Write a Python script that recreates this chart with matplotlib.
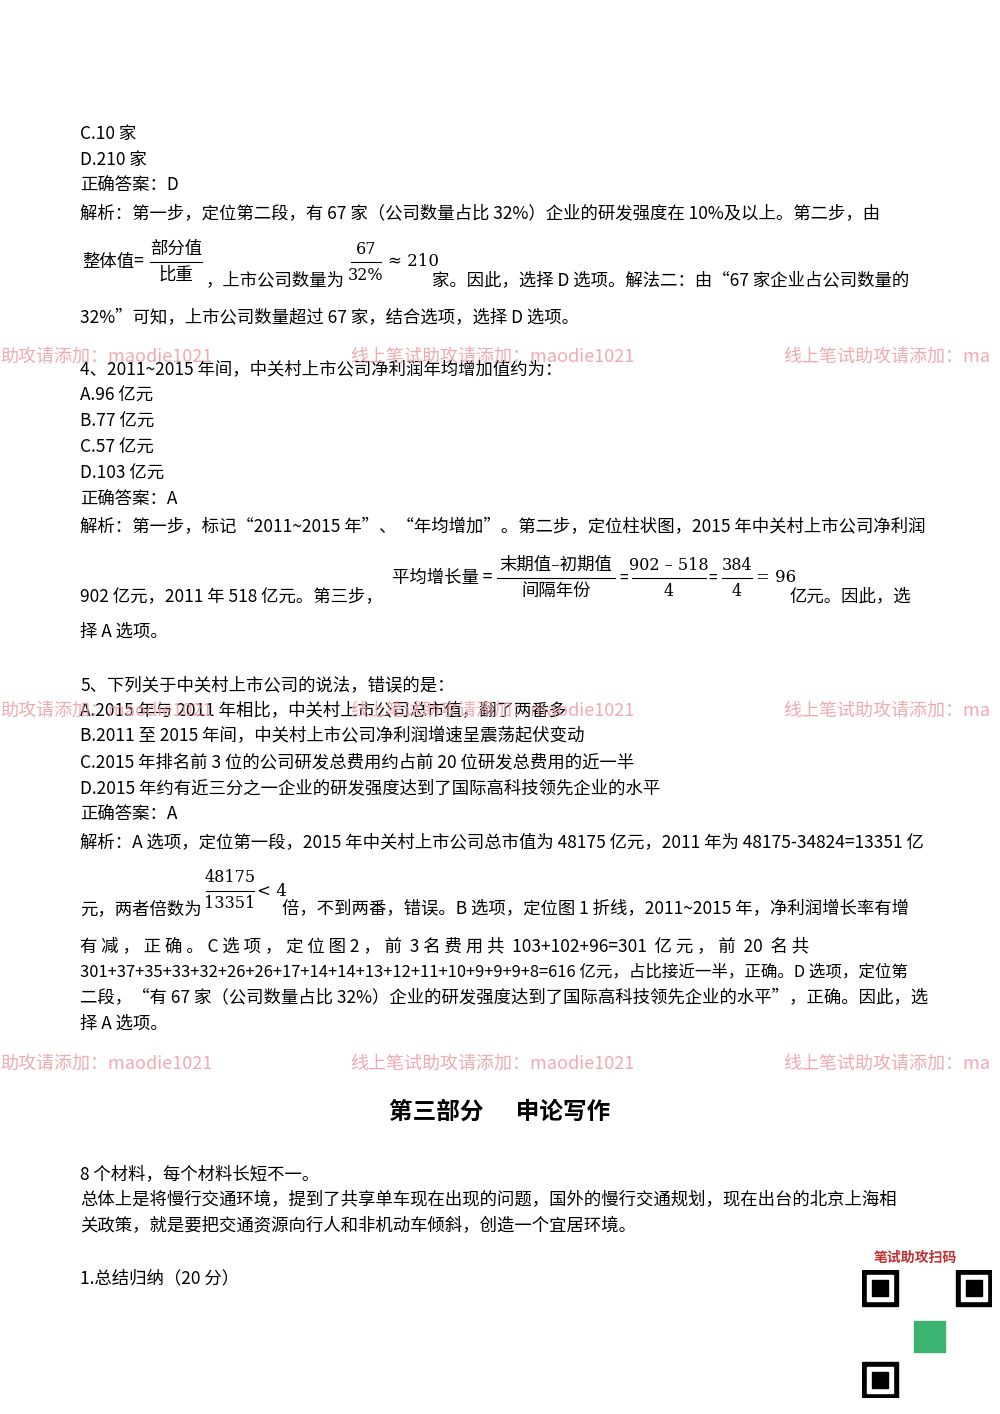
import matplotlib
matplotlib.use("Agg")
import matplotlib.pyplot as plt
from matplotlib.lines import Line2D
from matplotlib.patches import Rectangle

plt.rcParams['font.family'] = ['Noto Sans CJK SC', 'DejaVu Sans']

W, H = 1000, 1414
BS = 12.5
fig = plt.figure(figsize=(10, 14.14), dpi=100)
fig.patch.set_facecolor('white')

def T(x, y, s, size=BS, **kw):
    fig.text(x / W, 1 - y / H, s, fontsize=size, va='center', ha=kw.pop('ha', 'left'), **kw)

def L(x0, x1, y):
    fig.add_artist(Line2D([x0 / W, x1 / W], [1 - y / H, 1 - y / H], color='black', lw=0.8))

def frac(xc, y, num, den, w, size=11.5):
    T(xc, y - 13, num, size, ha='center', family=['DejaVu Serif', 'Noto Sans CJK SC'])
    T(xc, y + 13, den, size, ha='center', family=['DejaVu Serif', 'Noto Sans CJK SC'])
    L(xc - w / 2, xc + w / 2, y)

lines_top = [
    (134, "C.10 家"), (160, "D.210 家"), (186, "正确答案：D"),
    (213, "解析：第一步，定位第二段，有 67 家（公司数量占比 32%）企业的研发强度在 10%及以上。第二步，由"),
    (318, "32%”可知，上市公司数量超过 67 家，结合选项，选择 D 选项。"),
    (370, "4、2011~2015 年间，中关村上市公司净利润年均增加值约为："),
    (396, "A.96 亿元"), (422, "B.77 亿元"), (448, "C.57 亿元"), (474, "D.103 亿元"),
    (500, "正确答案：A"),
    (527, "解析：第一步，标记“2011~2015 年”、“年均增加”。第二步，定位柱状图，2015 年中关村上市公司净利润"),
    (596, "902 亿元，2011 年 518 亿元。第三步，"),
    (632, "择 A 选项。"),
    (685, "5、下列关于中关村上市公司的说法，错误的是："),
    (710, "A.2015 年与 2011 年相比，中关村上市公司总市值，翻了两番多"),
    (736, "B.2011 至 2015 年间，中关村上市公司净利润增速呈震荡起伏变动"),
    (762, "C.2015 年排名前 3 位的公司研发总费用约占前 20 位研发总费用的近一半"),
    (788, "D.2015 年约有近三分之一企业的研发强度达到了国际高科技领先企业的水平"),
    (815, "正确答案：A"),
    (842, "解析：A 选项，定位第一段，2015 年中关村上市公司总市值为 48175 亿元，2011 年为 48175-34824=13351 亿"),
    (909, "元，两者倍数为"),
    (946, "有 减 ， 正 确 。 C 选 项 ， 定 位 图 2 ， 前  3 名 费 用 共  103+102+96=301  亿 元 ， 前  20  名 共"),
    (998, "二段，“有 67 家（公司数量占比 32%）企业的研发强度达到了国际高科技领先企业的水平”，正确。因此，选"),
    (1024, "择 A 选项。"),
    (1174, "8 个材料，每个材料长短不一。"),
    (1200, "总体上是将慢行交通环境，提到了共享单车现在出现的问题，国外的慢行交通规划，现在出台的北京上海相"),
    (1226, "关政策，就是要把交通资源向行人和非机动车倾斜，创造一个宜居环境。"),
    (1278, "1.总结归纳（20 分）"),
]
for y, s in lines_top:
    T(80, y, s)
T(80, 972, "301+37+35+33+32+26+26+17+14+14+13+12+11+10+9+9+9+8=616 亿元，占比接近一半，正确。D 选项，定位第", 11.9)

# formulas
T(82, 262, "整体值=", 12.5)
frac(176, 262, "部分值", "比重", 52, 12.5)
T(206, 280, "，上市公司数量为")
frac(366, 262, "67", "32%", 30)
T(388, 262, "≈ 210", 12, family=['DejaVu Serif'])
T(432, 280, "家。因此，选择 D 选项。解法二：由“67 家企业占公司数量的")
T(392, 578, "平均增长量 =", 12.5)
frac(556, 578, "末期值–初期值", "间隔年份", 118, 12.5)
T(619, 578, "=", 11)
frac(669, 578, "902 – 518", "4", 74)
T(708, 578, "=", 11)
frac(737, 578, "384", "4", 30)
T(756, 578, "= 96", 12, family=['DejaVu Serif'])
T(790, 596, "亿元。因此，选")
frac(230, 891, "48175", "13351", 48)
T(257, 891, "< 4", 12, family=['DejaVu Serif'])
T(282, 909, "倍，不到两番，错误。B 选项，定位图 1 折线，2011~2015 年，净利润增长率有增")

# watermarks
wm_rows = [357, 711, 1064]
wm_texts = ["助攻请添加：maodie1021", "线上笔试助攻请添加：maodie1021", "线上笔试助攻请添加：ma"]
wm_x = [0, 350, 783]
for y in wm_rows:
    for x, s in zip(wm_x, wm_texts):
        T(x, y, s, 13, color='#f0a0a8', alpha=0.9)

T(500, 1112, "第三部分      申论写作", 17, ha='center', fontweight='bold')

# QR placeholder
T(874, 1258, "笔试助攻扫码", 10, color='#c03030', fontweight='bold')
ax = fig.add_axes([862 / W, 1 - 1398 / H, 130 / W, 128 / H])
ax.set_xlim(0, 25); ax.set_ylim(0, 25); ax.axis('off')
for (cx, cy) in [(0, 18), (18, 18), (0, 0)]:
    ax.add_patch(Rectangle((cx, cy), 7, 7, color='black'))
    ax.add_patch(Rectangle((cx + 1, cy + 1), 5, 5, color='white'))
    ax.add_patch(Rectangle((cx + 2, cy + 2), 3, 3, color='black'))
ax.add_patch(Rectangle((10, 9), 6, 6, color='#3cb371'))

fig.savefig("out.png", dpi=100, facecolor='white')
